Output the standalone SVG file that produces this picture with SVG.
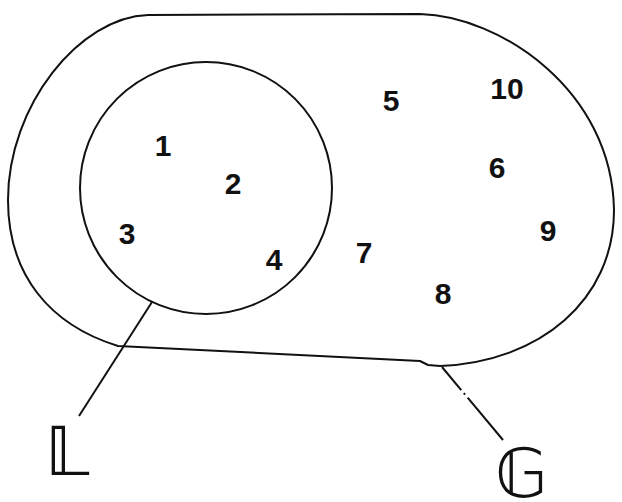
<svg xmlns="http://www.w3.org/2000/svg" width="622" height="502" viewBox="0 0 622 502">
<style>
.set{fill:none;stroke:#111;stroke-width:2;stroke-linejoin:round}
.lead{fill:none;stroke:#111;stroke-width:2}
.num{font-family:"Liberation Sans",Arial,sans-serif;font-weight:bold;font-size:30px;fill:#111;text-anchor:middle}
.lab{font-family:"DejaVu Sans","Noto Sans",sans-serif;font-size:68px;fill:#111}
</style>
<rect width="622" height="502" fill="#fff"/>
<g id="G-set">
<path class="set" d="M420,14 L148,15 C80,17 8,105 8,200 C8,275 50,325 118,346 L420,361 L428,365 L440,366 C540,362 614,300 614,210 C612,90 500,16 420,14 Z"/>
</g>
<g id="L-set">
<circle class="set" cx="206" cy="188" r="126"/>
</g>
<g id="connectors">
<line class="lead" x1="152" y1="302" x2="79" y2="416"/>
<line class="lead" x1="442" y1="367" x2="503" y2="440" stroke-dasharray="30,4,2,4,60"/>
</g>
<g id="n1"><text class="num" x="163" y="156">1</text></g>
<g id="n2"><text class="num" x="233" y="194">2</text></g>
<g id="n3"><text class="num" x="127" y="244">3</text></g>
<g id="n4"><text class="num" x="274" y="270">4</text></g>
<g id="n5"><text class="num" x="391" y="111">5</text></g>
<g id="n10"><text class="num" x="507" y="99">10</text></g>
<g id="n6"><text class="num" x="497" y="178">6</text></g>
<g id="n7"><text class="num" x="364" y="263">7</text></g>
<g id="n9"><text class="num" x="548" y="241">9</text></g>
<g id="n8"><text class="num" x="443" y="304">8</text></g>
<g id="label-L"><text class="lab" x="45" y="475">𝕃</text></g>
<g id="label-G"><text class="lab" x="495" y="497">𝔾</text></g>
</svg>
